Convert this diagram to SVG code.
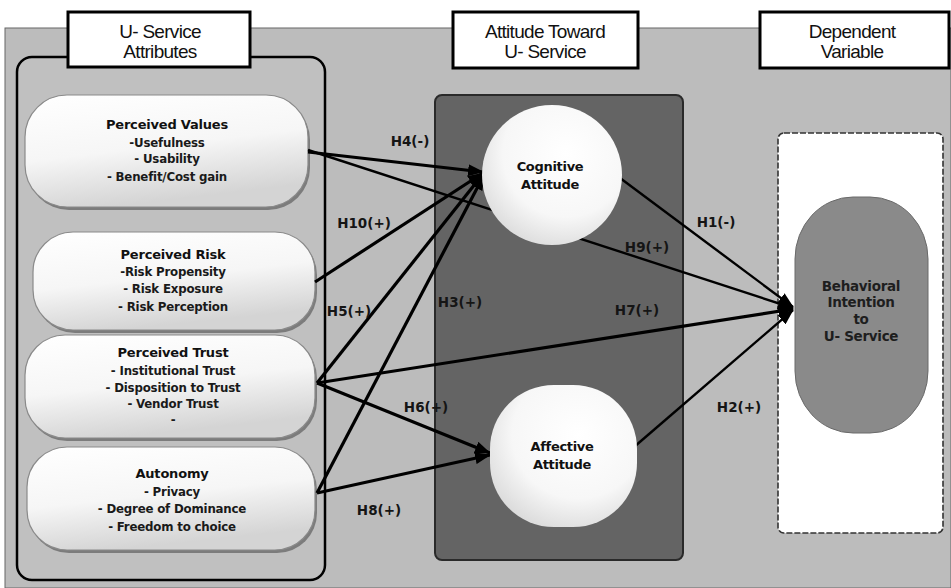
<svg xmlns="http://www.w3.org/2000/svg" width="951" height="588" viewBox="0 0 951 588">
<defs>
<style>
.hdr{fill:#fff;stroke:#000;stroke-width:3}
.htxt{font-family:"Liberation Sans",Arial,sans-serif;font-size:19px;fill:#111;text-anchor:middle;letter-spacing:-0.7px}
.node{fill:url(#ng);stroke:#8a8a8a;stroke-width:1.2}
.shadow{fill:#7c7c7c}
.ttl{font-family:"DejaVu Sans",Verdana,sans-serif;font-weight:bold;font-size:13px;fill:#111;text-anchor:middle;letter-spacing:-0.2px}
.itm{font-family:"DejaVu Sans",Verdana,sans-serif;font-weight:bold;font-size:11.8px;fill:#1a1a1a;text-anchor:middle;letter-spacing:-0.2px}
.ctxt{font-family:"DejaVu Sans",Verdana,sans-serif;font-weight:bold;font-size:13px;fill:#111;text-anchor:middle;letter-spacing:-0.3px}
.btxt{font-family:"DejaVu Sans",Verdana,sans-serif;font-weight:bold;font-size:13.5px;fill:#1e1e1e;text-anchor:middle;letter-spacing:-0.3px}
.lbl{font-family:"DejaVu Sans",Verdana,sans-serif;font-weight:bold;font-size:13.5px;fill:#151515;text-anchor:middle}
.ln{stroke:#000;stroke-width:3.2;fill:none;marker-end:url(#ah)}
.lnt{stroke:#000;stroke-width:2.4;fill:none;marker-end:url(#ah)}
</style>
<linearGradient id="ng" x1="0" y1="0" x2="0.3" y2="1">
<stop offset="0" stop-color="#ffffff"/>
<stop offset="0.55" stop-color="#f6f6f6"/>
<stop offset="1" stop-color="#d4d4d4"/>
</linearGradient>
<radialGradient id="cg" cx="0.6" cy="0.35" r="0.75">
<stop offset="0" stop-color="#ffffff"/>
<stop offset="0.6" stop-color="#f7f7f7"/>
<stop offset="1" stop-color="#d6d6d6"/>
</radialGradient>
<marker id="ah" markerUnits="userSpaceOnUse" markerWidth="16" markerHeight="12" refX="15" refY="6" orient="auto">
<path d="M0,0 L16,6 L0,12 z" fill="#000"/>
</marker>
</defs>

<!-- background -->
<rect x="0" y="0" width="951" height="588" fill="#ffffff"/>
<rect x="5" y="28" width="946" height="560" fill="#bcbcbc" stroke="#666" stroke-width="1"/>

<!-- containers -->
<g id="attributes-panel">
<rect x="17" y="57" width="308" height="523" rx="15" fill="#c0c0c0" stroke="#000" stroke-width="2.5"/>
</g>
<g id="attitude-panel">
<rect x="435" y="95" width="248" height="465" rx="7" fill="#646464" stroke="#2a2a2a" stroke-width="2"/>
</g>
<g id="dependent-panel">
<rect x="778" y="133" width="165" height="400" rx="6" fill="#ffffff" stroke="#333" stroke-width="1.6" stroke-dasharray="6 2"/>
</g>

<!-- header boxes -->
<g id="hdr-attributes">
<rect class="hdr" x="68" y="12" width="182" height="55"/>
<text class="htxt" x="160" y="38">U- Service</text>
<text class="htxt" x="160" y="58">Attributes</text>
</g>
<g id="hdr-attitude">
<rect class="hdr" x="453" y="12" width="185" height="56"/>
<text class="htxt" x="545" y="38">Attitude Toward</text>
<text class="htxt" x="545" y="58">U- Service</text>
</g>
<g id="hdr-dependent">
<rect class="hdr" x="760" y="12" width="189" height="56"/>
<text class="htxt" x="852" y="38">Dependent</text>
<text class="htxt" x="852" y="58">Variable</text>
</g>

<!-- attribute nodes -->
<g id="perceived-values">
<rect class="shadow" x="27" y="98" width="283" height="112" rx="42"/>
<rect class="node" x="25" y="95" width="283" height="112" rx="42"/>
<text class="ttl" x="167" y="129">Perceived Values</text>
<text class="itm" x="167" y="147">-Usefulness</text>
<text class="itm" x="167" y="163">- Usability</text>
<text class="itm" x="167" y="181">- Benefit/Cost gain</text>
</g>
<g id="perceived-risk">
<rect class="shadow" x="35" y="235" width="282" height="98" rx="40"/>
<rect class="node" x="33" y="232" width="282" height="98" rx="40"/>
<text class="ttl" x="173" y="259">Perceived Risk</text>
<text class="itm" x="173" y="276">-Risk Propensity</text>
<text class="itm" x="173" y="293">- Risk Exposure</text>
<text class="itm" x="173" y="311">- Risk Perception</text>
</g>
<g id="perceived-trust">
<rect class="shadow" x="27" y="338" width="290" height="103" rx="40"/>
<rect class="node" x="25" y="335" width="290" height="103" rx="40"/>
<text class="ttl" x="173" y="357">Perceived Trust</text>
<text class="itm" x="173" y="375">- Institutional Trust</text>
<text class="itm" x="173" y="392">- Disposition to Trust</text>
<text class="itm" x="173" y="408">- Vendor Trust</text>
<text class="itm" x="173" y="424">-</text>
</g>
<g id="autonomy">
<rect class="shadow" x="29" y="450" width="288" height="103" rx="40"/>
<rect class="node" x="27" y="447" width="288" height="103" rx="40"/>
<text class="ttl" x="172" y="478">Autonomy</text>
<text class="itm" x="172" y="496">- Privacy</text>
<text class="itm" x="172" y="513">- Degree of Dominance</text>
<text class="itm" x="172" y="531">- Freedom to choice</text>
</g>

<!-- connectors -->
<g id="connectors">
<line class="ln" x1="308" y1="152" x2="483" y2="172"/>
<line class="ln" x1="315" y1="282" x2="483" y2="173"/>
<line class="ln" x1="317" y1="383" x2="483" y2="174"/>
<line class="ln" x1="317" y1="493" x2="484" y2="175"/>
<line class="ln" x1="317" y1="383" x2="490" y2="453"/>
<line class="ln" x1="317" y1="493" x2="490" y2="455"/>
<line class="lnt" x1="308" y1="150" x2="793" y2="308"/>
<line class="lnt" x1="620" y1="178" x2="793" y2="307"/>
<line class="ln" x1="317" y1="383" x2="793" y2="309"/>
<line class="lnt" x1="634" y1="447" x2="793" y2="310"/>
<text class="lbl" x="410" y="146">H4(-)</text>
<text class="lbl" x="364" y="228">H10(+)</text>
<text class="lbl" x="349" y="316">H5(+)</text>
<text class="lbl" x="460" y="307">H3(+)</text>
<text class="lbl" x="426" y="412">H6(+)</text>
<text class="lbl" x="379" y="515">H8(+)</text>
<text class="lbl" x="647" y="252">H9(+)</text>
<text class="lbl" x="637" y="315">H7(+)</text>
<text class="lbl" x="716" y="227">H1(-)</text>
<text class="lbl" x="739" y="412">H2(+)</text>
</g>

<!-- attitude nodes -->
<g id="cognitive-attitude">
<circle cx="552" cy="175" r="70" fill="url(#cg)"/>
<text class="ctxt" x="550" y="171">Cognitive</text>
<text class="ctxt" x="550" y="189">Attitude</text>
</g>
<g id="affective-attitude">
<rect x="490" y="385" width="147" height="142" rx="64" fill="url(#cg)"/>
<text class="ctxt" x="562" y="451">Affective</text>
<text class="ctxt" x="562" y="469">Attitude</text>
</g>

<!-- dependent node -->
<g id="behavioral-intention">
<rect x="795" y="197" width="133" height="236" rx="58" ry="62" fill="#8a8a8a" stroke="#6a6a6a" stroke-width="1"/>
<text class="btxt" x="861" y="291">Behavioral</text>
<text class="btxt" x="861" y="307">Intention</text>
<text class="btxt" x="861" y="324">to</text>
<text class="btxt" x="861" y="341">U- Service</text>
</g>
</svg>
